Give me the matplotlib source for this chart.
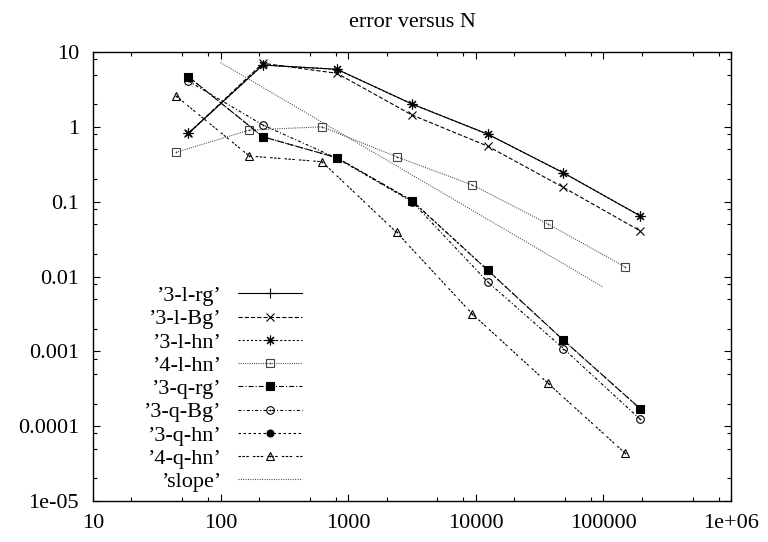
import numpy as np
import matplotlib
matplotlib.use("Agg")
import matplotlib.pyplot as plt
from matplotlib.ticker import LogLocator, FixedFormatter, NullFormatter
from matplotlib.legend_handler import HandlerTuple

plt.rcParams['font.family'] = ['Liberation Serif', 'DejaVu Serif']
plt.rcParams['lines.scale_dashes'] = False

# mesh sizes for the cubic (3-*) and quartic (4-*) runs
N_3 = [56, 214, 817, 3160, 12360, 48600, 193700]
N_4 = [44.8, 168, 623, 2393, 9420, 36900, 147000]

err_3l_rg = [0.82, 6.7, 5.87, 2.02, 0.80, 0.243, 0.0648]
err_3l_Bg = [0.82, 7.07, 5.19, 1.44, 0.553, 0.155, 0.0408]
err_3l_hn = [0.82, 6.7, 5.87, 2.02, 0.80, 0.243, 0.0648]
err_4l_hn = [0.456, 0.906, 1.0, 0.398, 0.167, 0.0502, 0.0135]
err_3q_rg = [4.67, 0.737, 0.386, 0.103, 0.0122, 0.00141, 0.000172]
err_3q_Bg = [4.09, 1.06, 0.38, 0.1, 0.0085, 0.00109, 0.000124]
err_3q_hn = [4.67, 0.737, 0.386, 0.103, 0.0122, 0.00141, 0.000172]
err_4q_hn = [2.58, 0.407, 0.342, 0.0389, 0.00314, 0.000372, 4.4e-5]

# reference line of slope -1
slope_N = [100, 1e5]
slope_err = [7.2, 0.0072]

xtick_vals = [10, 100, 1000, 10000, 100000, 1e6]
xtick_labels = ["10", "100", "1000", "10000", "100000", "1e+06"]
ytick_vals = [1e-5, 1e-4, 1e-3, 1e-2, 0.1, 1, 10]
ytick_labels = ["1e-05", "0.0001", "0.001", "0.01", "0.1", "1", "10"]

fig = plt.figure(figsize=(7.68, 5.42), dpi=100)
ax = fig.add_axes([93/768, 1 - 501/542, (731-93)/768, (501-52)/542])

lw = 0.8
k = 'black'

handles = []
labels = []

def series(x, y, label, dashes, marker, ms, fill=True, dot=False, color=k):
    ls = '-' if dashes is None else (0, dashes)
    mfc = color if fill else 'none'
    line, = ax.plot(x, y, color=color, lw=lw, linestyle=ls, marker=marker,
                    markersize=ms, markerfacecolor=mfc, markeredgecolor=color,
                    markeredgewidth=0.8)
    h = line
    if dot:
        # little dot in the centre of the open symbols
        d, = ax.plot(x, y, linestyle='none', marker='o', markersize=1.3,
                     color=color, markeredgewidth=0)
        h = (line, d)
    handles.append(h)
    labels.append("\u2019" + label + "\u2019")

series(N_3, err_3l_rg, "3-l-rg", None, '+', 7)
series(N_3, err_3l_Bg, "3-l-Bg", (3.0, 1.5), 'x', 6)
series(N_3, err_3l_hn, "3-l-hn", (1.5, 1.5), (8, 2, 0), 7)
series(N_4, err_4l_hn, "4-l-hn", (0.7, 0.9), 's', 5.5, fill=False, dot=True, color='#444444')
series(N_3, err_3q_rg, "3-q-rg", (3.5, 1.5, 0.8, 1.5), 's', 6)
series(N_3, err_3q_Bg, "3-q-Bg", (2.2, 1.5, 0.8, 1.5), 'o', 5.5, fill=False, dot=True)
series(N_3, err_3q_hn, "3-q-hn", (1.8, 1.8), 'o', 5)
series(N_4, err_4q_hn, "4-q-hn", (1.8, 1.0, 1.8, 1.0, 1.8, 3.0), '^', 5.5, fill=False, dot=True)

sl, = ax.plot(slope_N, slope_err, color='#444444', lw=lw, linestyle=(0, (0.7, 1.0)))
handles.append(sl)
labels.append("\u2019slope\u2019")

ax.set_xscale('log')
ax.set_yscale('log')
ax.set_xlim(10, 1e6)
ax.set_ylim(1e-5, 10)

ax.set_xticks(xtick_vals)
ax.xaxis.set_major_formatter(FixedFormatter(xtick_labels))
ax.set_yticks(ytick_vals)
ax.yaxis.set_major_formatter(FixedFormatter(ytick_labels))
ax.xaxis.set_minor_locator(LogLocator(base=10, subs=[2, 5, 8], numticks=20))
ax.yaxis.set_minor_locator(LogLocator(base=10, subs=[2, 5, 8], numticks=20))
ax.xaxis.set_minor_formatter(NullFormatter())
ax.yaxis.set_minor_formatter(NullFormatter())

ax.tick_params(which='both', direction='in', top=True, right=True, width=0.8,
               labelsize=16, colors='black')
ax.tick_params(which='major', length=5)
ax.tick_params(which='minor', length=2.8)
ax.tick_params(axis='x', pad=9)
ax.tick_params(axis='y', pad=10)
for s in ax.spines.values():
    s.set_linewidth(1.0)

ax.set_title('error versus N', fontsize=16, pad=18)

ax.legend(handles, labels, handler_map={tuple: HandlerTuple(ndivide=1)},
          loc='lower right', bbox_to_anchor=(0.3276, 0.02), frameon=False,
          markerfirst=False, numpoints=1, fontsize=16, handlelength=2.9,
          handletextpad=0.75, labelspacing=0.12, borderpad=0, borderaxespad=0)

fig.savefig('out.png', dpi=100)
